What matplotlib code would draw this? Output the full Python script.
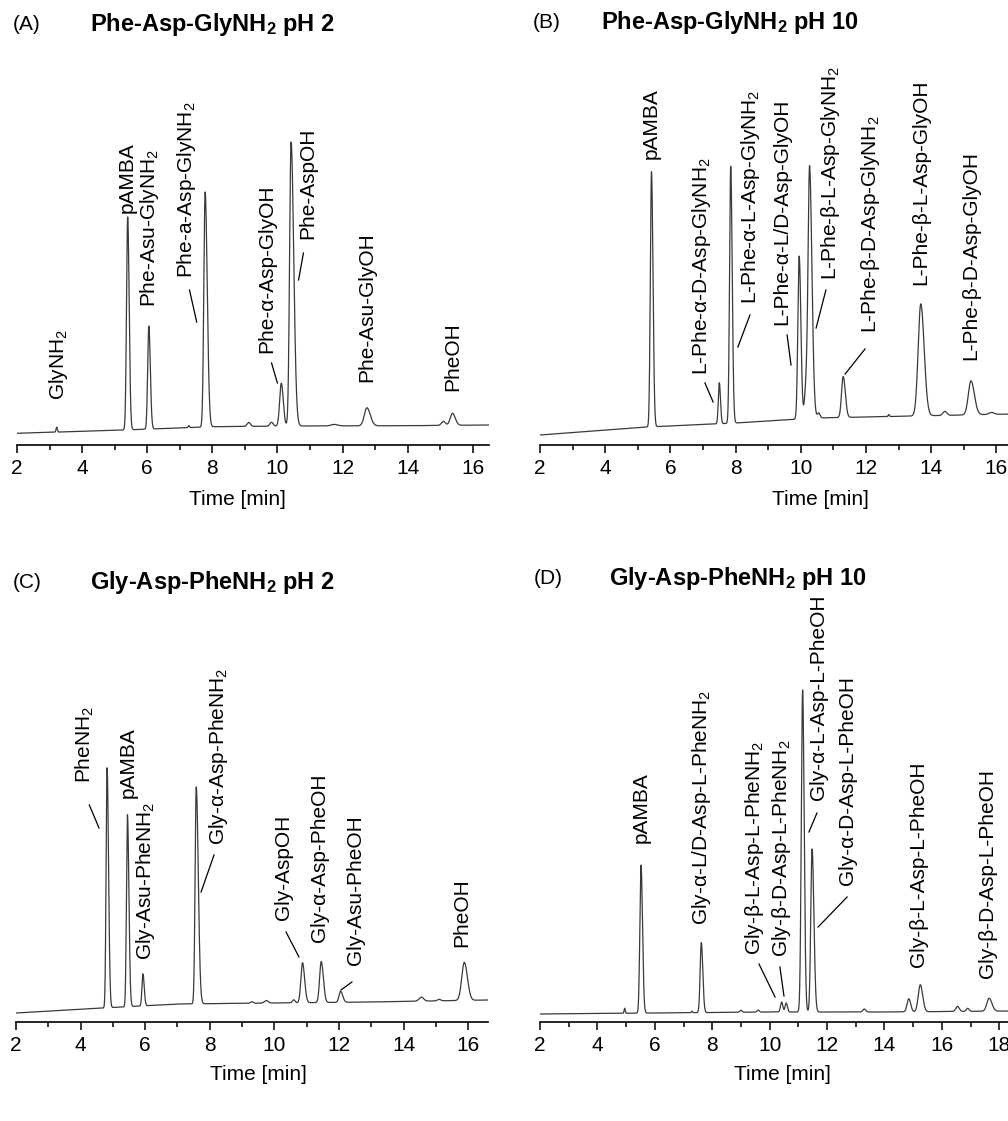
import numpy as np
import matplotlib
matplotlib.use("Agg")
import matplotlib.pyplot as plt
from matplotlib.ticker import MultipleLocator

plt.rcParams['font.family'] = ['Liberation Sans', 'DejaVu Sans']
plt.rcParams['mathtext.default'] = 'regular'

# ---- data (times in min, intensity in arbitrary units) ----
# (A) Phe-Asp-GlyNH2 pH 2
A_rt = [3.22, 5.40, 6.05, 7.28, 7.78, 9.12, 9.82, 10.12, 10.42, 11.75, 12.75, 15.10, 15.38]
A_h = [5, 213, 103, 2, 235, 4, 4, 43, 284, 1.5, 18, 4, 12]
A_w = [0.02, 0.035, 0.035, 0.02, 0.04, 0.05, 0.05, 0.05, 0.045, 0.1, 0.08, 0.06, 0.07]
A_tail = [1, 1.3, 1.3, 1, 1.6, 1, 1, 1.2, 1.8, 1, 1.3, 1, 1.2]
A_base_t = [2, 5.3, 8, 10.6, 14, 16.5]
A_base = [11.7, 15, 18.3, 19, 19.3, 20]
A_names = ["GlyNH$_2$", "pAMBA", "Phe-Asu-GlyNH$_2$", "Phe-a-Asp-GlyNH$_2$",
           "Phe-α-Asp-GlyOH", "Phe-AspOH", "Phe-Asu-GlyOH", "PheOH"]

# (B) Phe-Asp-GlyNH2 pH 10
B_rt = [5.42, 7.50, 7.85, 9.95, 10.17, 10.27, 10.55, 11.30, 12.7, 13.68, 14.42, 15.22, 15.85]
B_h = [255, 41, 257, 163, 35, 248, 5, 41, 2, 112, 4, 34, 2]
B_w = [0.035, 0.03, 0.035, 0.04, 0.05, 0.045, 0.04, 0.05, 0.02, 0.08, 0.06, 0.08, 0.08]
B_tail = [1.3, 1.2, 1.3, 1.3, 1, 1.6, 1, 1.3, 1, 1.3, 1, 1.3, 1]
B_base_t = [2, 5.3, 8, 10.5, 12, 16.5]
B_base = [10, 18, 22, 27, 28, 31]
B_names = ["pAMBA", "L-Phe-α-D-Asp-GlyNH$_2$", "L-Phe-α-L-Asp-GlyNH$_2$",
           "L-Phe-α-L/D-Asp-GlyOH", "L-Phe-β-L-Asp-GlyNH$_2$", "L-Phe-β-D-Asp-GlyNH$_2$",
           "L-Phe-β-L-Asp-GlyOH", "L-Phe-β-D-Asp-GlyOH"]

# (C) Gly-Asp-PheNH2 pH 2
C_rt = [4.82, 5.45, 5.93, 7.58, 9.3, 9.75, 10.6, 10.87, 11.45, 12.05, 14.55, 15.1, 15.88]
C_h = [240, 192, 32, 217, 1.5, 2.5, 3, 40, 41, 11, 4, 1.5, 38]
C_w = [0.03, 0.03, 0.03, 0.035, 0.04, 0.06, 0.04, 0.05, 0.05, 0.05, 0.07, 0.05, 0.08]
C_tail = [1.5, 1.5, 1.3, 1.8, 1, 1, 1, 1.3, 1.3, 1.3, 1, 1, 1.2]
C_base_t = [2, 4.7, 7, 10, 13, 16.6]
C_base = [9, 14, 18, 19, 20, 22]
C_names = ["PheNH$_2$", "pAMBA", "Gly-Asu-PheNH$_2$", "Gly-α-Asp-PheNH$_2$",
           "Gly-AspOH", "Gly-α-Asp-PheOH", "Gly-Asu-PheOH", "PheOH"]

# (D) Gly-Asp-PheNH2 pH 10
D_rt = [4.95, 5.52, 7.3, 7.62, 9.0, 9.6, 10.42, 10.58, 11.15, 11.48, 13.3, 14.85, 15.25, 16.55, 16.9, 17.65]
D_h = [5, 148, 1.5, 70, 2, 2, 10, 9, 322, 163, 3, 13, 27, 5, 3, 13]
D_w = [0.02, 0.04, 0.02, 0.04, 0.04, 0.04, 0.04, 0.04, 0.045, 0.045, 0.05, 0.06, 0.07, 0.06, 0.05, 0.08]
D_tail = [1, 1.3, 1, 1.3, 1, 1, 1, 1, 1.2, 1.4, 1, 1.1, 1.2, 1, 1, 1.2]
D_base_t = [2, 6, 10, 14, 18.5]
D_base = [8, 9, 10, 10, 11]
D_names = ["pAMBA", "Gly-α-L/D-Asp-L-PheNH$_2$", "Gly-β-L-Asp-L-PheNH$_2$",
           "Gly-β-D-Asp-L-PheNH$_2$", "Gly-α-L-Asp-L-PheOH", "Gly-α-D-Asp-L-PheOH",
           "Gly-β-L-Asp-L-PheOH", "Gly-β-D-Asp-L-PheOH"]

# ---- label placement (time, height of text bottom) and leader lines ----
A_lab = [(3.26, 45), (5.40, 232), (6.08, 138), (7.20, 167), (9.67, 92), (10.93, 206), (12.73, 63), (15.38, 54)]
A_lead = [None, None, None, ((7.3, 155), (7.52, 123)), ((9.82, 82), (10.0, 62)),
          ((10.8, 192), (10.65, 165)), None, None]
B_lab = [(5.40, 286), (6.94, 70), (8.47, 141), (9.43, 120), (10.92, 165), (12.15, 112), (13.68, 160), (15.22, 85)]
B_lead = [None, ((7.06, 62), (7.31, 43)), ((8.44, 130), (8.07, 98)), ((9.58, 110), (9.70, 80)),
          ((10.77, 155), (10.47, 117)), ((11.97, 96), (11.36, 71)), None, None]
C_lab = [(4.14, 239), (5.48, 224), (6.00, 62), (8.26, 177), (10.28, 102), (11.40, 80), (12.50, 57), (15.80, 75)]
C_lead = [((4.27, 217), (4.57, 194)), None, None, ((8.13, 167), (7.73, 130)),
          ((10.36, 90), (10.76, 65)), None, ((12.4, 40), (12.06, 32)), None]
D_lab = [(5.52, 179), (7.64, 97), (9.48, 67), (10.40, 65), (11.72, 222), (12.70, 137), (15.20, 55), (17.58, 44)]
D_lead = [None, None, ((9.63, 58), (10.19, 25)), ((10.36, 55), (10.5, 26)),
          ((11.65, 209), (11.37, 190)), ((12.7, 125), (11.69, 95)), None, None]


def trace(t, rt, h, w, tail, bt, b):
    y = np.interp(t, bt, b)
    for r, hh, ww, tt in zip(rt, h, w, tail):
        s = np.where(t < r, ww, ww * tt)
        y = y + hh * np.exp(-0.5 * ((t - r) / s) ** 2)
    return y


W, H = 1008, 1121
fig = plt.figure(figsize=(W / 100, H / 100), dpi=100)

panels = [
    # left_px, axis_px, xmax, px_per_min, data, labels, leaders, tag, title, title pos, xlabel coords
    (17, 445, 16.5, 32.55, (A_rt, A_h, A_w, A_tail, A_base_t, A_base), A_names, A_lab, A_lead,
     "(A)", "Phe-Asp-GlyNH$_2$ pH 2", (13, 90, 25), (0.468, -0.1375)),
    (540, 445, 16.5, 32.6, (B_rt, B_h, B_w, B_tail, B_base_t, B_base), B_names, B_lab, B_lead,
     "(B)", "Phe-Asp-GlyNH$_2$ pH 10", (533, 601, 23), (0.594, -0.1375)),
    (16, 1022, 16.6, 32.3, (C_rt, C_h, C_w, C_tail, C_base_t, C_base), C_names, C_lab, C_lead,
     "(C)", "Gly-Asp-PheNH$_2$ pH 2", (13, 90, 582), (0.514, -0.1325)),
    (540, 1022, 18.5, 28.7, (D_rt, D_h, D_w, D_tail, D_base_t, D_base), D_names, D_lab, D_lead,
     "(D)", "Gly-Asp-PheNH$_2$ pH 10", (534, 609, 578), (0.511, -0.1325)),
]

axh = 400
for left, axis_px, xmax, ppm, dat, names, labs, leads, tag, title, tpos, xl in panels:
    width = (xmax - 2) * ppm
    ax = fig.add_axes([left / W, 1 - axis_px / H, width / W, axh / H])
    t = np.linspace(2, xmax, 8000)
    ax.plot(t, trace(t, *dat), color='#3a3a3a', lw=0.9)
    ax.set_xlim(2, xmax)
    ax.set_ylim(0, axh)
    for s in ['left', 'right', 'top']:
        ax.spines[s].set_visible(False)
    ax.spines['bottom'].set_linewidth(1.2)
    ax.set_yticks([])
    ax.xaxis.set_major_locator(MultipleLocator(2))
    ax.xaxis.set_minor_locator(MultipleLocator(1))
    ax.tick_params(axis='x', which='major', direction='out', length=6, width=1.1,
                   labelsize=15, pad=4)
    ax.tick_params(axis='x', which='minor', direction='out', length=3.5, width=1.1)
    ax.patch.set_alpha(0)
    ax.set_xlabel("Time [min]", fontsize=15)
    ax.xaxis.set_label_coords(*xl)
    ax.xaxis.label.set_va('center')

    for name, (lx, ly), ld in zip(names, labs, leads):
        ax.text(lx, ly, name, rotation=90, ha='center', va='bottom', fontsize=15)
        if ld is not None:
            ax.plot([ld[0][0], ld[1][0]], [ld[0][1], ld[1][1]], color='black', lw=0.9)

    fig.text(tpos[0] / W, 1 - tpos[2] / H, tag, fontsize=15, va='center', ha='left')
    fig.text(tpos[1] / W, 1 - tpos[2] / H, title, fontsize=17, fontweight='bold',
             va='center', ha='left')

fig.savefig("out.png", dpi=100)
